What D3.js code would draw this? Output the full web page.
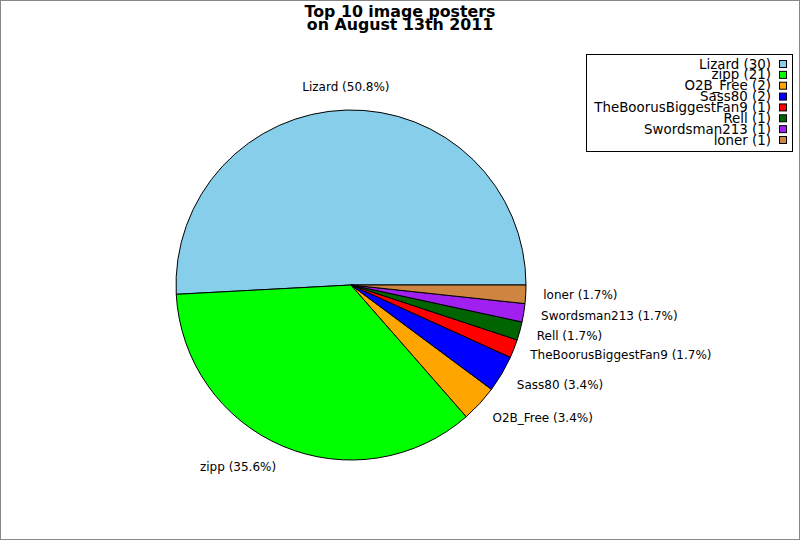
<!DOCTYPE html>
<html>
<head>
<meta charset="utf-8">
<script src="https://cdn.jsdelivr.net/npm/d3@7"></script>
<style>
  body { margin: 0; background: #fff; }
  text { font-family: "DejaVu Sans", sans-serif; }
</style>
</head>
<body>
<script>
// data
var names = ["Lizard", "zipp", "O2B_Free", "Sass80", "TheBoorusBiggestFan9", "Rell", "Swordsman213", "loner"];
var counts = [30, 21, 2, 2, 1, 1, 1, 1];
var colors = ["#87ceeb", "#00ff00", "#ffa500", "#0000ff", "#ff0000", "#006400", "#a020f0", "#cd853f"];
var titleLines = ["Top 10 image posters", "on August 13th 2011"];

var W = 800, H = 540;
var cx = 351, cy = 285, r = 175;

var svg = d3.select("body").append("svg")
    .attr("width", W)
    .attr("height", H);

// frame
svg.append("rect")
    .attr("x", 0.5).attr("y", 0.5)
    .attr("width", W - 1).attr("height", H - 1)
    .attr("fill", "#fff")
    .attr("stroke", "#888");

// title
svg.append("g").selectAll("text")
    .data(titleLines)
    .enter().append("text")
    .attr("x", 400)
    .attr("y", (d, i) => 17 + i * 13)
    .attr("text-anchor", "middle")
    .style("font-weight", "bold")
    .style("font-size", "15.8px")
    .text(d => d);

var total = d3.sum(counts);
var items = names.map((n, i) => ({ name: n, value: counts[i], color: colors[i] }));

// slices go counterclockwise starting at 3 o'clock
var angle = d3.scaleLinear().domain([0, total]).range([Math.PI / 2, Math.PI / 2 - 2 * Math.PI]);
var pie = d3.pie().value(d => d.value).sort(null)
    .startAngle(angle(0)).endAngle(angle(total));
var arcs = pie(items);

var arc = d3.arc().innerRadius(0).outerRadius(r);

var g = svg.append("g").attr("transform", "translate(" + cx + "," + cy + ")");

g.selectAll("path")
    .data(arcs)
    .enter().append("path")
    .attr("d", arc)
    .attr("fill", d => d.data.color)
    .attr("stroke", "#000")
    .attr("stroke-width", 1)
    .attr("stroke-linejoin", "round");

// slice labels
var pct = d3.format(".1f");
var labelR = r * 1.1;
g.selectAll("text.lbl")
    .data(arcs)
    .enter().append("text")
    .attr("class", "lbl")
    .each(function (d) {
      var a = (d.startAngle + d.endAngle) / 2;
      var x = labelR * Math.sin(a), y = -labelR * Math.cos(a);
      var anchor = Math.abs(Math.sin(a)) < 0.2 ? "middle" : (x > 0 ? "start" : "end");
      d3.select(this)
        .attr("x", x)
        .attr("y", y)
        .attr("dy", y < -labelR * 0.9 ? "-0.1em" : (y > labelR * 0.9 ? "0.7em" : (y > labelR * 0.45 ? "0.55em" : "0.35em")))
        .attr("text-anchor", anchor);
    })
    .style("font-size", "12px")
    .text(d => d.data.name + " (" + pct(d.data.value / total * 100) + "%)");

// legend
var lg = svg.append("g");
lg.append("rect")
    .attr("x", 586.5).attr("y", 54.5)
    .attr("width", 206).attr("height", 97)
    .attr("fill", "#fff")
    .attr("stroke", "#000");

var row = d3.scaleLinear().domain([0, items.length - 1]).range([64, 140]);

lg.selectAll("text")
    .data(items)
    .enter().append("text")
    .attr("x", 771)
    .attr("y", (d, i) => row(i) + 4.5)
    .attr("text-anchor", "end")
    .style("font-size", "13.4px")
    .text(d => d.name + " (" + d.value + ")");

lg.selectAll("rect.sw")
    .data(items)
    .enter().append("rect")
    .attr("class", "sw")
    .attr("x", 779.5)
    .attr("y", (d, i) => row(i) - 3.5)
    .attr("width", 7).attr("height", 7)
    .attr("fill", d => d.color)
    .attr("stroke", "#000");
</script>
</body>
</html>
